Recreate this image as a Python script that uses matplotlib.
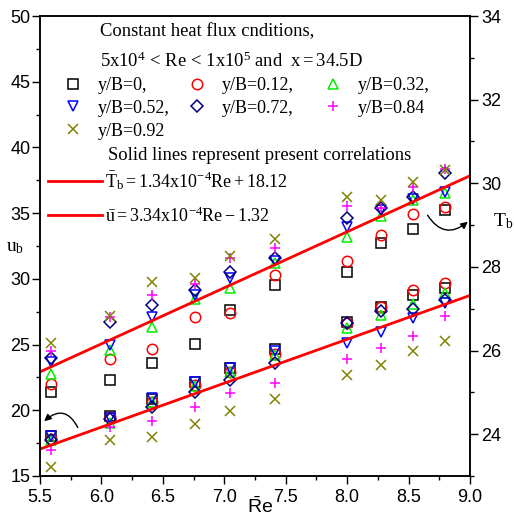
import matplotlib
matplotlib.use('Agg')
import matplotlib.pyplot as plt
from matplotlib.lines import Line2D
from matplotlib.ticker import MultipleLocator, FormatStrFormatter
import numpy as np

plt.rcParams['font.family'] = ['Liberation Sans', 'DejaVu Sans']
plt.rcParams['mathtext.fontset'] = 'custom'
plt.rcParams['mathtext.rm'] = 'Liberation Serif'
plt.rcParams['mathtext.it'] = 'Liberation Serif:italic'
plt.rcParams['mathtext.sf'] = 'Liberation Sans'

# Re / 10^4
re = [5.59, 6.07, 6.41, 6.76, 7.05, 7.41, 8.0, 8.275, 8.54, 8.8]

labels = ['y/B=0,', 'y/B=0.12,', 'y/B=0.32,', 'y/B=0.52,', 'y/B=0.72,', 'y/B=0.84', 'y/B=0.92']
markers = ['s', 'o', '^', 'v', 'D', '+', 'x']
colors = ['black', 'red', '#00ee00', 'blue', '#000080', 'magenta', '#808000']

# mean velocity u_b (left axis)
u_b = [
    [18.05, 19.6, 20.84, 22.18, 23.25, 24.64, 26.74, 27.89, 28.77, 29.28],
    [17.85, 19.5, 20.66, 21.9, 22.94, 24.3, 26.62, 27.84, 29.16, 29.66],
    [17.74, 19.0, 20.66, 21.88, 22.94, 24.2, 26.29, 27.25, 28.09, 28.95],
    [18.05, 19.44, 20.91, 22.18, 23.2, 24.51, 25.1, 25.93, 27.05, 28.2],
    [17.72, 19.3, 20.28, 21.42, 22.3, 23.58, 26.62, 27.58, 27.68, 28.39],
    [16.98, 18.76, 19.19, 20.28, 21.34, 22.1, 23.88, 24.71, 25.65, 27.2],
    [15.71, 17.74, 17.94, 18.96, 19.97, 20.84, 22.69, 23.45, 24.51, 25.27],
]

# bulk temperature T_b (right axis)
t_b = [
    [25.0, 25.29, 25.70, 26.16, 26.97, 27.57, 27.89, 28.57, 28.90, 29.36],
    [25.19, 25.80, 26.03, 26.80, 26.89, 27.81, 28.15, 28.76, 29.27, 29.44],
    [25.45, 26.02, 26.57, 27.23, 27.50, 28.10, 28.72, 29.22, 29.60, 29.76],
    [25.73, 26.13, 26.81, 27.33, 27.73, 28.14, 28.95, 29.36, 29.62, 29.78],
    [25.83, 26.69, 27.09, 27.45, 27.89, 28.21, 29.18, 29.42, 29.68, 30.25],
    [25.98, 26.80, 27.33, 27.60, 28.22, 28.45, 29.46, 29.40, 29.90, 30.34],
    [26.19, 26.83, 27.64, 27.73, 28.25, 28.66, 29.68, 29.60, 30.02, 30.32],
]

# correlations (Re in units of 10^4)
tb_slope, tb_icpt = 1.34, 18.12
u_slope, u_icpt = 3.34, -1.32
re_line = np.array([5.5, 9.0])

W, H = 514, 519
fig = plt.figure(figsize=(W / 100, H / 100), dpi=100)
ax = fig.add_axes([40/W, 1 - 476/H, 430/W, 460/H])
ax2 = ax.twinx()

def mstyle(i):
    kw = dict(marker=markers[i], color=colors[i], linestyle='none',
              markersize=7.5, markeredgewidth=1.1)
    if markers[i] == 'D':
        kw['markersize'] = 6.5
    if markers[i] in 'so^vD':
        kw['markerfacecolor'] = 'none'
    return kw

for i in range(len(labels)):
    ax.plot(re, u_b[i], **mstyle(i))
    ax2.plot(re, t_b[i], **mstyle(i))

ax.plot(re_line, u_slope * re_line + u_icpt, color='red', lw=2)
ax2.plot(re_line, tb_slope * re_line + tb_icpt, color='red', lw=2)

ax.set_xlim(5.5, 9.0)
ax.set_ylim(15, 50)
ax2.set_ylim(23, 34)
ax.xaxis.set_major_locator(MultipleLocator(0.5))
ax.xaxis.set_minor_locator(MultipleLocator(0.25))
ax.yaxis.set_major_locator(MultipleLocator(5))
ax.yaxis.set_minor_locator(MultipleLocator(2.5))
ax2.yaxis.set_major_locator(MultipleLocator(2))
ax2.yaxis.set_minor_locator(MultipleLocator(1))
ax.xaxis.set_major_formatter(FormatStrFormatter('%.1f'))

for a in (ax, ax2):
    a.tick_params(which='major', direction='out', length=6, width=1, labelsize=13)
    a.tick_params(which='minor', direction='out', length=3, width=1)
    for s in a.spines.values():
        s.set_linewidth(1.1)
ax.tick_params(axis='y', pad=1)
ax2.tick_params(axis='y', pad=2)
ax.tick_params(axis='x', pad=3)

fig.text(260/W, 2/H, r'$\mathsf{\bar{R}e}$', fontsize=14, ha='center', va='bottom')
fig.text(15/W, 1 - 247/H, r'$\mathrm{u_b}$', fontsize=14, ha='center', va='center')
fig.text(503/W, 1 - 221/H, r'$\mathrm{T_b}$', fontsize=14, ha='center', va='center')

# annotation text
serif = ['Liberation Serif', 'DejaVu Serif']
fig.text(100/W, 1 - 32/H, 'Constant heat flux cnditions,', family=serif,
         fontsize=13.4, va='center')
fig.text(100/W, 1 - 61/H,
         r'$\mathrm{5x10^4\,<\,Re\,<\,1x10^5\ and\ \ x = 34.5D}$', fontsize=13.4, va='center')
fig.text(108/W, 1 - 155/H, 'Solid lines represent present correlations',
         family=serif, fontsize=13.4, va='center')

# marker legend, one column per block so the column spacing follows the picture
handles = [Line2D([], [], **mstyle(i)) for i in range(len(labels))]
col_groups = [[0, 3, 6], [1, 4], [2, 5]]
col_x = [73, 197, 333]
hl = 1.2
for grp, cx in zip(col_groups, col_x):
    half = hl * 13 / 72 * 100 / 2
    lg = ax2.legend([handles[i] for i in grp], [labels[i] for i in grp],
                    loc='upper left', bbox_to_anchor=((cx - half) / W, 1 - 77/H),
                    bbox_transform=fig.transFigure, frameon=False,
                    prop={'family': serif, 'size': 13}, handletextpad=0.75,
                    labelspacing=0.32, handlelength=hl,
                    borderpad=0, borderaxespad=0)
    ax2.add_artist(lg)

lines = [Line2D([], [], color='red', lw=2), Line2D([], [], color='red', lw=2)]
lg = ax2.legend(lines, [r'$\mathrm{\bar{T}_b = 1.34x10^{-4}Re + 18.12}$',
                        r'$\mathrm{\bar{u} = 3.34x10^{-4}Re - 1.32}$'],
                loc='upper left', bbox_to_anchor=(48/W, 1 - 169/H),
                bbox_transform=fig.transFigure, frameon=False,
                prop={'size': 13}, handlelength=3.0, handletextpad=0.18,
                labelspacing=0.8, borderpad=0, borderaxespad=0)

arrow = dict(arrowstyle='-|>', color='black', lw=1, mutation_scale=10)
ax.annotate('', xy=(0.005, 0.115), xytext=(0.0907, 0.1), xycoords='axes fraction',
            arrowprops=dict(connectionstyle='arc3,rad=0.7', **arrow))
ax.annotate('', xy=(1.0, 0.5565), xytext=(0.898, 0.572), xycoords='axes fraction',
            arrowprops=dict(connectionstyle='arc3,rad=0.6', **arrow))

fig.savefig('out.png', dpi=100)
